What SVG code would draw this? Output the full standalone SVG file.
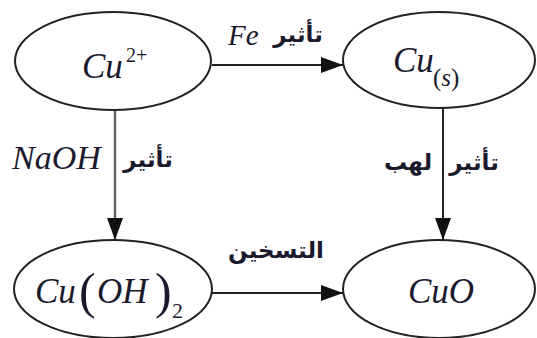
<svg xmlns="http://www.w3.org/2000/svg" width="537" height="338" viewBox="0 0 537 338">
<style>
.node{fill:#fff;stroke:#222;stroke-width:2}
.chem{font-family:"Liberation Serif",serif;font-style:italic;fill:#1a1a2e}
.up{font-family:"Liberation Serif",serif;fill:#1a1a2e}
.ar{font-family:"DejaVu Sans","Noto Sans",sans-serif;font-weight:bold;fill:#1a1a2e;font-size:23px}
.edge{stroke:#222;stroke-width:2;fill:none}
</style>
<defs>
<marker id="ah" markerUnits="userSpaceOnUse" markerWidth="22" markerHeight="16" refX="22" refY="8" orient="auto">
<path d="M0,0 L22,8 L0,16 z" fill="#111"/>
</marker>
</defs>
<rect width="537" height="338" fill="#fff"/>
<g id="connectors">
<line class="edge" x1="212" y1="65" x2="343" y2="65" marker-end="url(#ah)"/>
<line class="edge" x1="115" y1="110" x2="115" y2="240" style="stroke:#666;stroke-width:2.5" marker-end="url(#ah)"/>
<line class="edge" x1="443" y1="108" x2="443" y2="240" marker-end="url(#ah)"/>
<line class="edge" x1="212" y1="293" x2="343" y2="293" marker-end="url(#ah)"/>
<text class="chem" x="228" y="45" font-size="29">Fe</text>
<text class="ar" x="298" y="42" text-anchor="middle">تأثير</text>
<text class="chem" x="12" y="169" font-size="34">NaOH</text>
<text class="ar" x="148" y="167" text-anchor="middle">تأثير</text>
<text class="ar" x="408" y="170" text-anchor="middle">لهب</text>
<text class="ar" x="474" y="170" text-anchor="middle">تأثير</text>
<text class="ar" x="276" y="258" text-anchor="middle">التسخين</text>
</g>
<g id="n-cu2">
<ellipse class="node" cx="113" cy="61" rx="98" ry="49"/>
<text class="chem" x="82" y="78" font-size="35">Cu</text>
<text class="up" x="126" y="62" font-size="20">2+</text>
</g>
<g id="n-cus">
<ellipse class="node" cx="439" cy="60" rx="96" ry="48"/>
<text class="chem" x="393" y="72" font-size="35">Cu</text>
<text class="up" x="433" y="86" font-size="25">(<tspan font-style="italic">s</tspan>)</text>
</g>
<g id="n-cuoh2">
<ellipse class="node" cx="113" cy="289" rx="99" ry="49"/>
<text class="chem" x="35" y="303" font-size="35">Cu</text>
<text class="up" x="79" y="308" font-size="50">(</text>
<text class="chem" x="97" y="303" font-size="35">OH</text>
<text class="up" x="155" y="308" font-size="50">)</text>
<text class="up" x="172" y="318" font-size="22">2</text>
</g>
<g id="n-cuo">
<ellipse class="node" cx="439" cy="289" rx="96" ry="49"/>
<text class="chem" x="408" y="303" font-size="35">CuO</text>
</g>
</svg>
